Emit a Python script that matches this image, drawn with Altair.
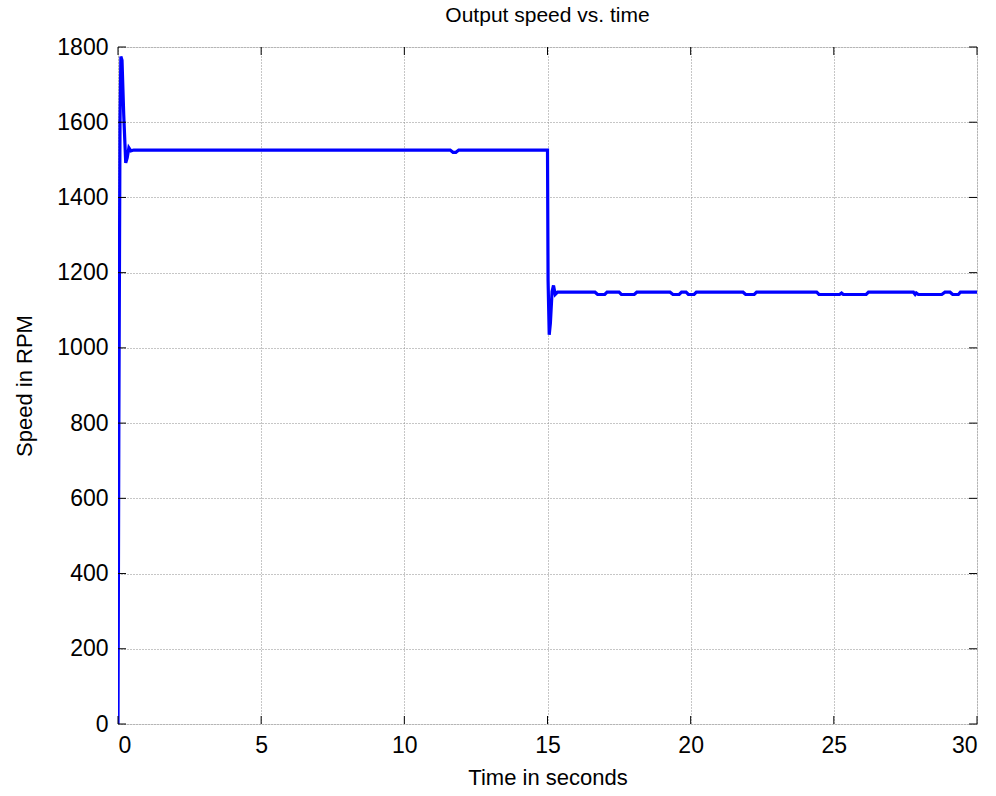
import altair as alt
import pandas as pd

# ---- data ----
time_s = [
    0.0, 0.03, 0.07, 0.10, 0.14, 0.20, 0.27, 0.32, 0.38, 0.45, 0.55,
    11.60, 11.70, 11.80, 11.90,
    15.00, 15.02, 15.06, 15.10, 15.16, 15.21, 15.27, 15.35,
    16.66, 16.75, 17.00, 17.08, 17.50, 17.58, 18.03, 18.12,
    19.28, 19.38, 19.60, 19.68, 19.84, 19.92, 20.12, 20.20,
    21.83, 21.92, 22.22, 22.30, 24.40, 24.48, 25.20, 25.27, 25.33,
    25.40, 26.13, 26.21, 27.78, 27.84, 27.88, 27.95, 28.77, 28.88,
    29.06, 29.15, 29.35, 29.42, 30.0,
]
speed_rpm = [
    0, 800, 1600, 1775, 1765, 1620, 1492, 1505, 1532, 1524, 1526,
    1526, 1520, 1520, 1526,
    1526, 1180, 1035, 1065, 1150, 1166, 1142, 1148,
    1148, 1142, 1142, 1148, 1148, 1142, 1142, 1148,
    1148, 1142, 1142, 1148, 1148, 1142, 1142, 1148,
    1148, 1142, 1142, 1148, 1148, 1142, 1142, 1146, 1142,
    1142, 1142, 1148, 1148, 1142, 1146, 1142, 1142, 1148,
    1148, 1142, 1142, 1148, 1148,
]
x_ticks = [0, 5, 10, 15, 20, 25, 30]
y_ticks = [0, 200, 400, 600, 800, 1000, 1200, 1400, 1600, 1800]

W, H = 859, 677
FONT = "Liberation Sans"
TICK = 8

df = pd.DataFrame({"t": time_s, "rpm": speed_rpm})
xt = pd.DataFrame({"t": x_ticks})
yt = pd.DataFrame({"rpm": y_ticks})

xs = alt.Scale(domain=[0, 30], nice=False, zero=False)
ys = alt.Scale(domain=[0, 1800], nice=False)

x_axis = alt.Axis(
    title="Time in seconds", values=x_ticks, format="d",
    grid=True, gridDash=[1, 2], gridColor="#8c8c8c", gridOpacity=1,
    domain=False, ticks=False,
    labelFont=FONT, labelFontSize=23, labelColor="black", labelPadding=10,
    titleFont=FONT, titleFontSize=22, titleFontWeight="normal",
    titleColor="black", titlePadding=10,
)
y_axis = alt.Axis(
    title="Speed in RPM", values=y_ticks, format="d",
    grid=True, gridDash=[1, 2], gridColor="#8c8c8c", gridOpacity=1,
    domain=False, ticks=False,
    labelFont=FONT, labelFontSize=23, labelColor="black", labelPadding=10,
    titleFont=FONT, titleFontSize=22, titleFontWeight="normal",
    titleColor="black", titlePadding=20,
)

X = alt.X("t:Q", scale=xs, axis=x_axis)
Y = alt.Y("rpm:Q", scale=ys, axis=y_axis)

line = alt.Chart(df).mark_line(color="#0000FF", strokeWidth=3.2, clip=True).encode(x=X, y=Y)

bottom_ticks = alt.Chart(xt).mark_rule(color="black", strokeWidth=1).encode(
    x=X, y=alt.value(H), y2=alt.value(H - TICK))
top_ticks = alt.Chart(xt).mark_rule(color="black", strokeWidth=1).encode(
    x=X, y=alt.value(0), y2=alt.value(TICK))
left_ticks = alt.Chart(yt).mark_rule(color="black", strokeWidth=1).encode(
    y=Y, x=alt.value(0), x2=alt.value(TICK))
right_ticks = alt.Chart(yt).mark_rule(color="black", strokeWidth=1).encode(
    y=Y, x=alt.value(W - TICK), x2=alt.value(W))

chart = alt.layer(line, bottom_ticks, top_ticks, left_ticks, right_ticks).properties(
    width=W, height=H,
    title=alt.TitleParams("Output speed vs. time", font=FONT, fontSize=21,
                          fontWeight="normal", color="black", offset=10),
    autosize=alt.AutoSizeParams(type="none"),
    padding={"left": 118, "top": 47, "right": 19, "bottom": 72},
).configure_view(stroke="black", strokeWidth=1).configure(background="white")

chart.save("out.html", embed_options={"renderer": "svg", "actions": False})
